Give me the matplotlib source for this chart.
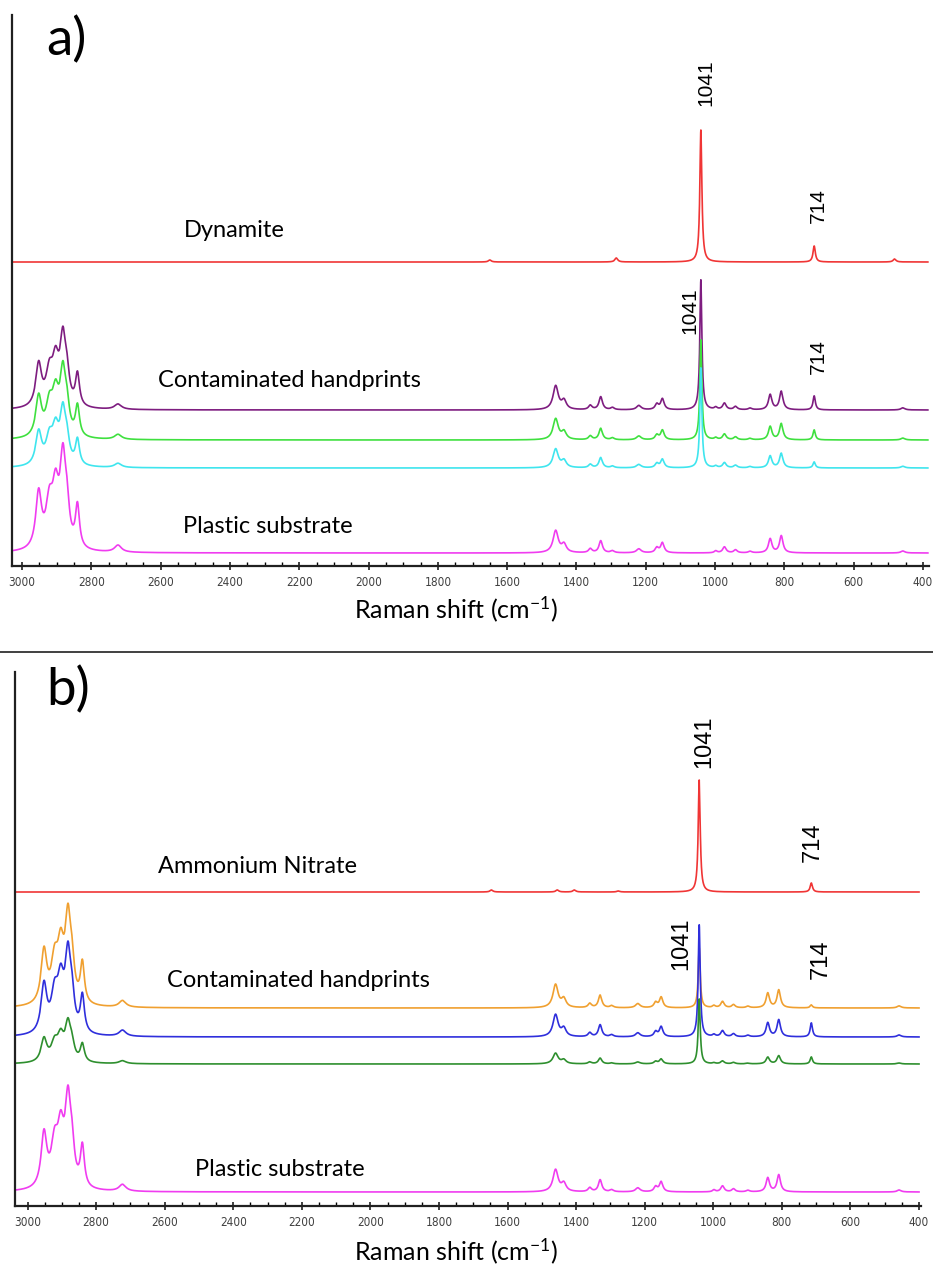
import numpy as np
import matplotlib.pyplot as plt
from matplotlib import font_manager
from matplotlib.lines import Line2D
from matplotlib.ticker import MultipleLocator

W, H = 933, 1267

ch_pos = [2952, 2921, 2903, 2882, 2870, 2840, 2723]
ch_amp = [55, 42, 52, 84, 30, 42, 7]
ch_hw = [10, 12, 11, 10, 8, 7, 12]

fp_pos = [1460, 1436, 1360, 1330, 1296, 1220, 1168, 1152, 998, 973, 941, 899, 841, 809, 458]
fp_amp = [22, 8, 4, 12, 2, 4, 5, 10, 2, 6, 3, 1.5, 14, 17, 2]
fp_hw = [9, 8, 6, 6, 6, 8, 6, 6, 5, 6, 6, 6, 6, 6, 7]

# nitrate bands
an_pos = [1041, 714]
an_hw = [3.5, 4.0]

# small extra bands of the pure explosives
dyn_extra_pos = [1650, 1285, 482]
dyn_extra_amp = [2, 4, 3]
amn_extra_pos = [1647, 1455, 1405, 1277]
amn_extra_amp = [2, 2, 2, 1]

# panel a) dynamite
a_colors = ['#f03535', '#7e1d80', '#3fe03f', '#3fe5ee', '#f03cf0']
a_offset = [304, 156, 126, 98, 13]
a_ch = [0, 0.76, 0.72, 0.60, 1.0]
a_fp = [0, 1.08, 0.95, 0.85, 1.0]
a_1041 = [132, 130, 100, 100, 0]
a_714 = [16, 14, 10, 6, 0]

# panel b) ammonium nitrate
b_colors = ['#f03535', '#f0a030', '#2f2fdc', '#2e8f2e', '#f03cf0']
b_offset = [314, 198, 169, 142, 14]
b_ch = [0, 0.95, 0.87, 0.42, 0.97]
b_fp = [0, 1.05, 1.0, 0.48, 1.0]
b_1041 = [112, 60, 112, 65, 0]
b_714 = [9, 3, 14, 7, 0]

ticks = [3000, 2800, 2600, 2400, 2200, 2000, 1800, 1600, 1400, 1200, 1000, 800, 600, 400]


def lor(x, c, w):
    return w ** 2 / ((x - c) ** 2 + w ** 2)


def spectrum(x, off, ch, fp, p1041, p714, ex_pos=(), ex_amp=()):
    y = np.full_like(x, float(off))
    for c, a, w in zip(ch_pos, ch_amp, ch_hw):
        y += ch * a * lor(x, c, w)
    for c, a, w in zip(fp_pos, fp_amp, fp_hw):
        y += fp * a * lor(x, c, w)
    y += p1041 * lor(x, an_pos[0], an_hw[0])
    y += p714 * lor(x, an_pos[1], an_hw[1])
    for c, a in zip(ex_pos, ex_amp):
        y += a * lor(x, c, 5)
    return y


names = {f.name for f in font_manager.fontManager.ttflist}
tick_font = 'Liberation Sans Narrow' if 'Liberation Sans Narrow' in names else 'DejaVu Sans'
label_font = 'Lato'
num_font = 'Liberation Sans'
plt.rcParams['mathtext.fontset'] = 'custom'
plt.rcParams['mathtext.rm'] = label_font
plt.rcParams['mathtext.default'] = 'regular'

fig = plt.figure(figsize=(W / 100, H / 100), dpi=100)


def ftext(px, py, s, **kw):
    fig.text(px / W, 1 - py / H, s, **kw)


def style_axes(ax):
    for s in ['top', 'right']:
        ax.spines[s].set_visible(False)
    for s in ['left', 'bottom']:
        ax.spines[s].set_linewidth(1.6)
        ax.spines[s].set_color('#202020')
    ax.set_yticks([])
    ax.set_xticks(ticks)
    ax.xaxis.set_minor_locator(MultipleLocator(50))
    ax.tick_params(axis='x', which='major', direction='inout', length=6, width=1.2,
                   pad=4, labelsize=8.5, colors='#202020', labelcolor='#404040')
    ax.tick_params(axis='x', which='minor', direction='in', length=3, width=1)
    for lab in ax.get_xticklabels():
        lab.set_fontfamily(tick_font)
        lab.set_fontstretch('condensed')


# ---------- panel a ----------
ax_a = fig.add_axes([12 / W, 1 - 566 / H, (929 - 12) / W, (566 - 15) / H])
xa = np.arange(386, 3026, 0.5)
ax_a.plot(xa, spectrum(xa, a_offset[0], a_ch[0], a_fp[0], a_1041[0], a_714[0],
                       dyn_extra_pos, dyn_extra_amp), color=a_colors[0], lw=1.2)
for i in range(1, 5):
    ax_a.plot(xa, spectrum(xa, a_offset[i], a_ch[i], a_fp[i], a_1041[i], a_714[i]),
              color=a_colors[i], lw=1.2)
ax_a.set_xlim(3028.9, 382.7)
ax_a.set_ylim(0, 551)
style_axes(ax_a)

# ---------- panel b ----------
ax_b = fig.add_axes([15 / W, 1 - 1206 / H, (921 - 15) / W, (1206 - 672) / H])
xb = np.arange(400, 3032, 0.5)
ax_b.plot(xb, spectrum(xb, b_offset[0], b_ch[0], b_fp[0], b_1041[0], b_714[0],
                       amn_extra_pos, amn_extra_amp), color=b_colors[0], lw=1.2)
for i in range(1, 5):
    ax_b.plot(xb, spectrum(xb, b_offset[i], b_ch[i], b_fp[i], b_1041[i], b_714[i]),
              color=b_colors[i], lw=1.2)
ax_b.set_xlim(3036.5, 394.2)
ax_b.set_ylim(0, 534)
style_axes(ax_b)

# separator between the panels
fig.add_artist(Line2D([0, 1], [1 - 652 / H] * 2, color='#202020', lw=1.2))

# ---------- texts ----------
big = dict(family=label_font, fontsize=38, color='black', va='baseline')
ftext(46, 55, 'a)', **big)
ftext(46, 705, 'b)', **big)

lab = dict(family=label_font, fontsize=17, color='black', va='baseline')
ftext(184, 237, 'Dynamite', **lab)
ftext(158, 387, 'Contaminated handprints', **lab)
ftext(183, 533, 'Plastic substrate', **lab)
ftext(158, 873, 'Ammonium Nitrate', **lab)
ftext(167, 987, 'Contaminated handprints', **lab)
ftext(195, 1176, 'Plastic substrate', **lab)

xl = dict(family=label_font, fontsize=18, color='black', ha='center', va='center')
ftext(456, 609, 'Raman shift (cm$^{-1}$)', **xl)
ftext(456, 1251, 'Raman shift (cm$^{-1}$)', **xl)

na = dict(family=num_font, fontsize=15, rotation=90, ha='center', va='center')
ftext(705.5, 83, '1041', **na)
ftext(818, 206, '714', **na)
ftext(690, 311, '1041', **na)
ftext(818, 357, '714', **na)
nb = dict(family=num_font, fontsize=17, rotation=90, ha='center', va='center')
ftext(704, 742, '1041', **nb)
ftext(813, 842, '714', **nb)
ftext(681, 944, '1041', **nb)
ftext(821, 959, '714', **nb)

fig.savefig('out.png', dpi=100)
